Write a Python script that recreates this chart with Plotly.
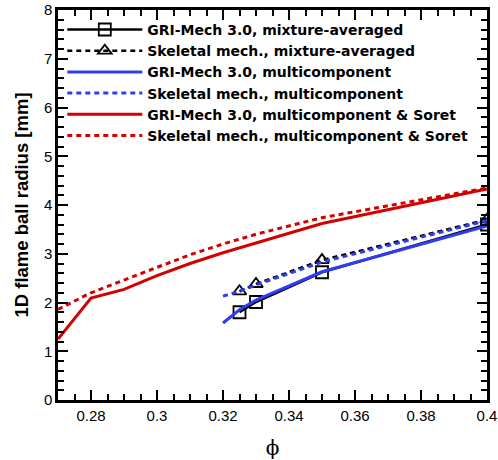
import plotly.graph_objects as go

# Data
phi_mark = [0.325, 0.33, 0.35, 0.40]
gri_mix = [1.80, 2.01, 2.62, 3.60]
skel_mix = [2.23, 2.38, 2.87, 3.70]

phi_multi = [0.32, 0.325, 0.33, 0.35, 0.40]
gri_multi = [1.58, 1.85, 2.05, 2.63, 3.57]
skel_multi = [2.13, 2.23, 2.36, 2.83, 3.68]

phi_soret = [0.27, 0.28, 0.29, 0.30, 0.31, 0.32, 0.33, 0.35, 0.40]
gri_soret = [1.25, 2.09, 2.27, 2.55, 2.80, 3.02, 3.22, 3.62, 4.33]
skel_soret = [1.86, 2.20, 2.46, 2.72, 2.98, 3.20, 3.40, 3.74, 4.35]

names = [
    "GRI-Mech 3.0, mixture-averaged",
    "Skeletal mech., mixture-averaged",
    "GRI-Mech 3.0, multicomponent",
    "Skeletal mech., multicomponent",
    "GRI-Mech 3.0, multicomponent & Soret",
    "Skeletal mech., multicomponent & Soret",
]

BLUE = "#2f3cf0"
RED = "#d40000"
DOT = "5px,4px"

fig = go.Figure()
fig.add_trace(go.Scatter(x=phi_mark, y=gri_mix, name=names[0], mode="lines+markers",
                         line=dict(color="black", width=2.5),
                         marker=dict(symbol="square-open", size=12, color="black", line=dict(width=1.8))))
fig.add_trace(go.Scatter(x=phi_mark, y=skel_mix, name=names[1], mode="lines+markers",
                         line=dict(color="black", width=2.5, dash=DOT),
                         marker=dict(symbol="triangle-up-open", size=12, color="black", line=dict(width=1.8))))
fig.add_trace(go.Scatter(x=phi_multi, y=gri_multi, name=names[2], mode="lines",
                         line=dict(color=BLUE, width=3)))
fig.add_trace(go.Scatter(x=phi_multi, y=skel_multi, name=names[3], mode="lines",
                         line=dict(color=BLUE, width=3, dash=DOT)))
fig.add_trace(go.Scatter(x=phi_soret, y=gri_soret, name=names[4], mode="lines",
                         line=dict(color=RED, width=3)))
fig.add_trace(go.Scatter(x=phi_soret, y=skel_soret, name=names[5], mode="lines",
                         line=dict(color=RED, width=3, dash=DOT)))

axis_common = dict(
    showline=True, linecolor="black", linewidth=2.5, mirror="allticks",
    ticks="inside", ticklen=10, tickwidth=2, tickcolor="black",
    showgrid=False, zeroline=False, automargin=False,
    tickfont=dict(family="Liberation Sans, Arial", size=15, color="black"),
)

fig.update_xaxes(range=[0.27, 0.40], dtick=0.02, tick0=0.28,
                 minor=dict(dtick=0.005, ticklen=6, tickwidth=1.5, tickcolor="black", ticks="inside", showgrid=False),
                 title=dict(text="ϕ", font=dict(family="DejaVu Serif, serif", size=20, color="black"), standoff=19),
                 **axis_common)
fig.update_yaxes(range=[0, 8], dtick=1,
                 minor=dict(dtick=0.2, ticklen=6, tickwidth=1.5, tickcolor="black", ticks="inside", showgrid=False),
                 title=dict(text="1D flame ball radius [mm]",
                            font=dict(family="Liberation Sans, Arial", size=18.5, color="black", weight="bold"),
                            standoff=11),
                 **axis_common)

fig.update_layout(
    width=498, height=460,
    margin=dict(l=58, r=11, t=10, b=60),
    plot_bgcolor="white", paper_bgcolor="white",
    showlegend=True,
    legend=dict(x=0.01, y=0.99, xanchor="left", yanchor="top",
                bgcolor="rgba(0,0,0,0)", tracegroupgap=0, itemwidth=75,
                font=dict(family="DejaVu Sans, Verdana", size=14, color="black", weight="bold")),
)

fig.write_html("out.html")
